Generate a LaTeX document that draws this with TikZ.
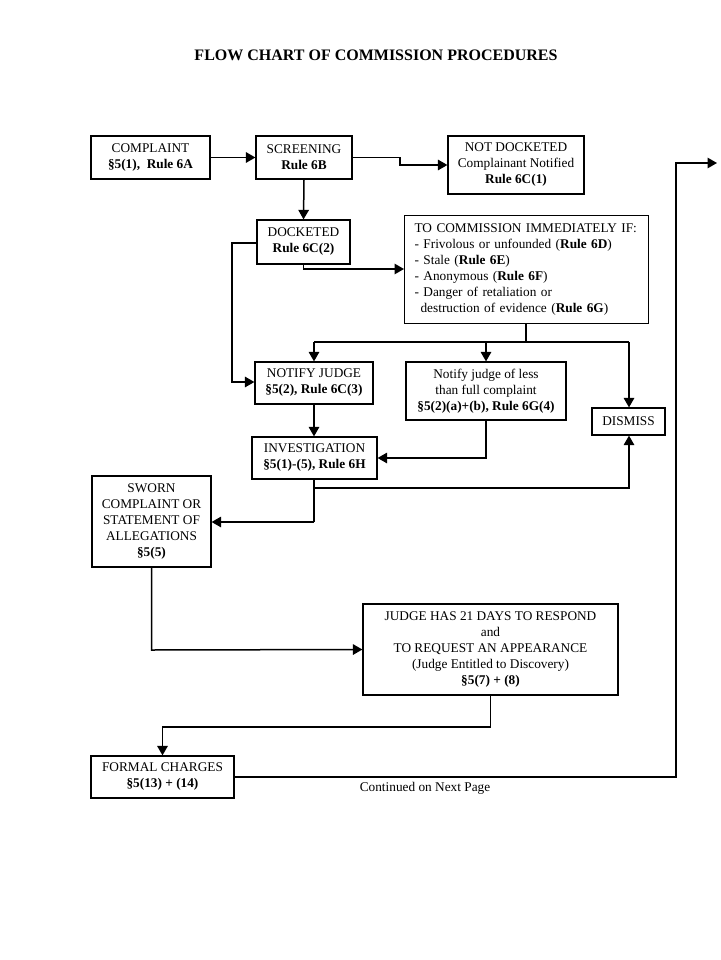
\documentclass[tikz,border=0pt]{standalone}
\usepackage{fontspec}
\setmainfont{Liberation Serif}
\usetikzlibrary{arrows.meta}
\begin{document}
\begin{tikzpicture}[x=1pt,y=-1pt,
  box/.style={draw, line width=1.2pt, align=center, inner sep=0pt, font=\fontsize{13.3}{16}\selectfont},
  conn/.style={line width=1.5pt},
  arr/.style={line width=1.5pt, -{Triangle[length=9.5pt,width=10.5pt]}}]
\useasboundingbox[fill=white] (0,0) rectangle (720,960);
\node[font=\fontsize{16}{18}\selectfont\bfseries] (title) at (376,55) {FLOW CHART OF COMMISSION PROCEDURES};
\node[box, minimum width=119pt, minimum height=43pt] (complaint) at (150.5,157.5) {COMPLAINT\\\textbf{§5(1),\ \ Rule 6A}};
\node[box, minimum width=96pt, minimum height=43pt] (screening) at (304,157.5) {SCREENING\\\textbf{Rule 6B}};
\node[box, minimum width=136pt, minimum height=58pt] (notdock) at (516,165) {NOT DOCKETED\\Complainant Notified\\\textbf{Rule 6C(1)}};
\node[box, minimum width=93pt, minimum height=44pt] (docketed) at (303.5,242) {DOCKETED\\\textbf{Rule 6C(2)}};
\node[box, anchor=north west, text width=224pt, inner xsep=10pt, minimum height=108pt, align=left] (commission) at (404,215) {TO COMMISSION IMMEDIATELY IF:\\- Frivolous or unfounded (\textbf{Rule 6D})\\- Stale (\textbf{Rule 6E})\\- Anonymous (\textbf{Rule 6F})\\- Danger of retaliation or\\\hspace*{0.45em}destruction of evidence (\textbf{Rule 6G})};
\node[box, minimum width=118pt, minimum height=42pt] (notify) at (314,383) {NOTIFY JUDGE\\\textbf{§5(2), Rule 6C(3)}};
\node[box, minimum width=160pt, minimum height=58pt] (notifyless) at (486,391) {Notify judge of less\\than full complaint\\\textbf{§5(2)(a)+(b), Rule 6G(4)}};
\node[box, minimum width=73pt, minimum height=27pt] (dismiss) at (628.5,421.5) {DISMISS};
\node[box, minimum width=125pt, minimum height=42pt] (invest) at (314.5,458) {INVESTIGATION\\\textbf{§5(1)-(5), Rule 6H}};
\node[box, minimum width=119pt, minimum height=91pt] (sworn) at (151.5,521.5) {SWORN\\COMPLAINT OR\\STATEMENT OF\\ALLEGATIONS\\\textbf{§5(5)}};
\node[box, minimum width=255pt, minimum height=91pt] (judge) at (490.5,649.5) {JUDGE HAS 21 DAYS TO RESPOND\\and\\TO REQUEST AN APPEARANCE\\(Judge Entitled to Discovery)\\\textbf{§5(7) + (8)}};
\node[box, minimum width=143pt, minimum height=42pt] (formal) at (162.5,777) {FORMAL CHARGES\\\textbf{§5(13) + (14)}};
\node[font=\fontsize{13.3}{16}\selectfont] (cont) at (425,788) {Continued on Next Page};
\coordinate (nextpage) at (717,163);
% connectors
\draw[arr] (complaint.east) -- (screening.west);
\draw[arr] (screening.east) -- (400,157.5) -- (400,165) -- (notdock.west);
\draw[arr] (screening.south) -- (docketed.north);
\draw[arr] (docketed.west |- 0,243) -- (232,243) -- (232,382) -- (notify.west |- 0,382);
\draw[arr] (docketed.south) -- (303.5,269) -- (commission.west |- 0,269);
\draw[conn] (526,323) -- (526,342);
\draw[conn] (314,342) -- (629,342);
\draw[arr] (314,342) -- (notify.north);
\draw[arr] (486,342) -- (notifyless.north);
\draw[arr] (629,342) -- (dismiss.north -| 629,0);
\draw[arr] (notify.south) -- (invest.north -| 314,0);
\draw[arr] (notifyless.south) -- (486,458) -- (invest.east);
\draw[conn] (invest.south -| 314,0) -- (314,522);
\draw[arr] (314,488) -- (629,488) -- (dismiss.south -| 629,0);
\draw[arr] (314,522) -- (sworn.east |- 0,522);
\draw[arr] (sworn.south) -- (151.5,650) -- (judge.west);
\draw[arr] (judge.south) -- (490.5,727) -- (162.5,727) -- (formal.north);
\draw[arr] (formal.east) -- (676,777) -- (676,163) -- (nextpage);
\end{tikzpicture}
\end{document}
